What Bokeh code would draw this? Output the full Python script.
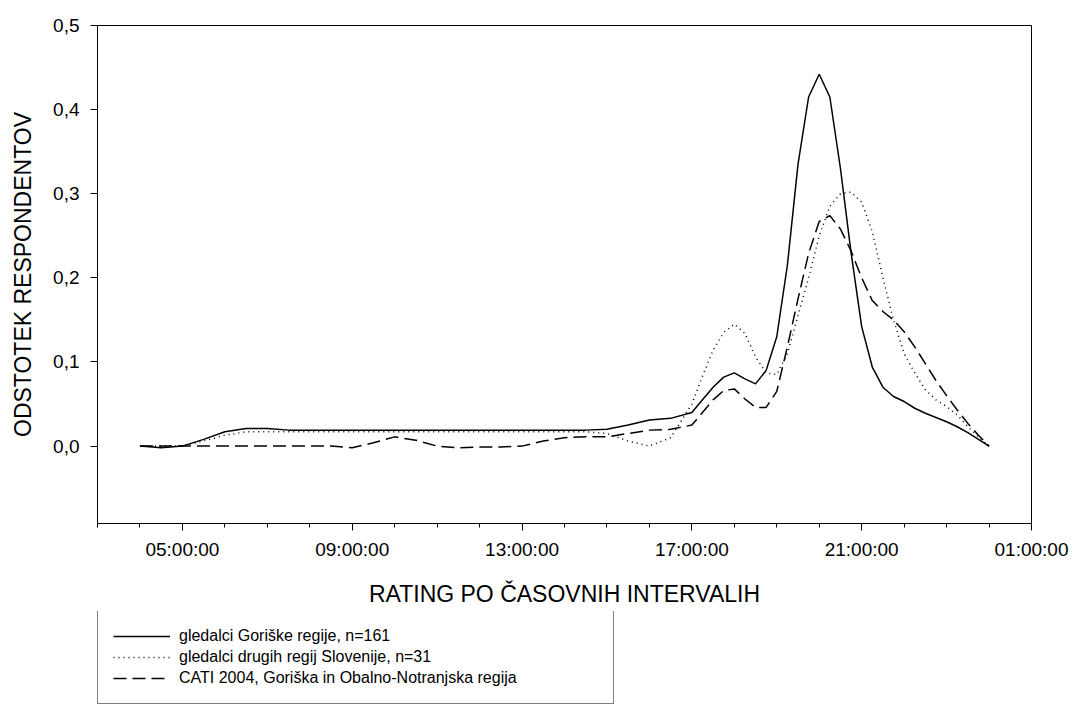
from bokeh.plotting import figure
from bokeh.layouts import column
from bokeh.models import FixedTicker, Range1d, Legend, LegendItem, ColumnDataSource
from bokeh.embed import file_html
from bokeh.resources import INLINE

# time of day in hours (24 = midnight)
hours = [4, 4.5, 5, 5.5, 6, 6.5, 7, 7.5, 8, 8.5, 9, 9.5, 10, 10.5, 11, 11.5, 12, 12.5,
         13, 13.5, 14, 14.5, 15, 15.5, 16, 16.5, 17, 17.25, 17.5, 17.75, 18, 18.25, 18.5,
         18.75, 19, 19.25, 19.5, 19.75, 20, 20.25, 20.5, 20.75, 21, 21.25, 21.5, 21.75,
         22, 22.25, 22.5, 22.75, 23, 23.25, 23.5, 23.75, 24]

goriska = [0.0, -0.002, 0.0, 0.008, 0.017, 0.021, 0.021, 0.019, 0.019, 0.019, 0.019, 0.019,
           0.019, 0.019, 0.019, 0.019, 0.019, 0.019, 0.019, 0.019, 0.019, 0.019, 0.020, 0.025,
           0.031, 0.033, 0.040, 0.055, 0.070, 0.082, 0.087, 0.080, 0.074, 0.090, 0.130, 0.215,
           0.335, 0.415, 0.442, 0.415, 0.330, 0.230, 0.142, 0.094, 0.070, 0.059, 0.053, 0.045,
           0.039, 0.034, 0.029, 0.023, 0.016, 0.008, 0.0]

drugi = [0.0, 0.0, 0.0, 0.006, 0.013, 0.017, 0.017, 0.017, 0.017, 0.017, 0.017, 0.017,
         0.017, 0.017, 0.017, 0.017, 0.017, 0.017, 0.017, 0.017, 0.017, 0.017, 0.015, 0.006,
         0.0, 0.010, 0.050, 0.083, 0.114, 0.135, 0.145, 0.134, 0.106, 0.087, 0.085, 0.110,
         0.155, 0.200, 0.250, 0.285, 0.300, 0.302, 0.290, 0.255, 0.200, 0.150, 0.110, 0.087,
         0.067, 0.055, 0.047, 0.037, 0.023, 0.011, 0.0]

cati = [0.0, 0.0, 0.0, 0.0, 0.0, 0.0, 0.0, 0.0, 0.0, 0.0, -0.002, 0.004, 0.011, 0.007,
        0.0, -0.002, -0.001, -0.001, 0.0, 0.006, 0.010, 0.011, 0.011, 0.015, 0.019, 0.020,
        0.025, 0.040, 0.055, 0.066, 0.068, 0.056, 0.046, 0.046, 0.065, 0.118, 0.175, 0.229,
        0.267, 0.274, 0.258, 0.232, 0.200, 0.173, 0.160, 0.150, 0.136, 0.118, 0.098, 0.078,
        0.060, 0.043, 0.027, 0.013, 0.0]

series_cols = ["g", "d", "c"]
series_names = ["gledalci Goriške regije, n=161",
                "gledalci drugih regij Slovenije, n=31",
                "CATI 2004, Goriška in Obalno-Notranjska regija"]

x_ticks = [5, 9, 13, 17, 21, 25]
x_labels = ["05:00:00", "09:00:00", "13:00:00", "17:00:00", "21:00:00", "01:00:00"]
x_minor = [3, 4, 5, 6, 7, 8, 9, 10, 11, 12, 13, 14, 15, 16, 17, 18, 19, 20, 21, 22, 23, 24, 25]
y_ticks = [0.0, 0.1, 0.2, 0.3, 0.4, 0.5]
y_labels = ["0,0", "0,1", "0,2", "0,3", "0,4", "0,5"]

FONT = "Liberation Sans"
STYLES = [dict(line_color="black", line_width=1.5),
          dict(line_color="black", line_width=1.5, line_dash="1 4"),
          dict(line_color="black", line_width=1.5, line_dash="13 6")]

src = ColumnDataSource(dict(h=hours, g=goriska, d=drugi, c=cati))

# ---------------- main chart ----------------
p = figure(frame_width=934, frame_height=498, output_backend="svg", toolbar_location=None,
           x_range=Range1d(3, 25), y_range=Range1d(-0.092, 0.5),
           min_border_left=97, min_border_right=40, min_border_top=25, min_border_bottom=88,
           background_fill_color="white", border_fill_color="white")
p.grid.visible = False
p.outline_line_color = "black"
p.outline_line_width = 1

for col, st in zip(series_cols, STYLES):
    p.line("h", col, source=src, **st)

xa = p.xaxis[0]
xa.ticker = FixedTicker(ticks=x_ticks, minor_ticks=x_minor)
xa.major_label_overrides = {t: l for t, l in zip(x_ticks, x_labels)}
xa.axis_label = "RATING PO ČASOVNIH INTERVALIH"
xa.major_tick_out = 7
xa.major_tick_in = 0
xa.minor_tick_out = 4
xa.minor_tick_in = 0
xa.major_label_standoff = 8
xa.axis_label_standoff = 18

ya = p.yaxis[0]
ya.ticker = FixedTicker(ticks=y_ticks)
ya.major_label_overrides = {t: l for t, l in zip(y_ticks, y_labels)}
ya.axis_label = "ODSTOTEK RESPONDENTOV"
ya.major_tick_out = 7
ya.major_tick_in = 0
ya.minor_tick_line_color = None
ya.major_label_standoff = 11
ya.axis_label_standoff = 14

for ax in (xa, ya):
    ax.axis_line_color = "black"
    ax.major_tick_line_color = "black"
    ax.major_label_text_font = FONT
    ax.major_label_text_font_size = "19px"
    ax.major_label_text_color = "black"
    ax.axis_label_text_font = FONT
    ax.axis_label_text_font_size = "23px"
    ax.axis_label_text_font_style = "normal"
    ax.axis_label_text_color = "black"
xa.minor_tick_line_color = "black"

# ---------------- legend strip below the chart ----------------
leg = figure(width=1071, height=94, output_backend="svg", toolbar_location=None,
             x_axis_type=None, y_axis_type=None,
             x_range=Range1d(3, 25), y_range=Range1d(-0.092, 0.5),
             min_border_left=0, min_border_right=0, min_border_top=0, min_border_bottom=0,
             background_fill_color="white", border_fill_color="white")
leg.grid.visible = False
leg.outline_line_color = None

# legend samples: same series, hidden in this strip (only their key is shown)
sample = []
for col, st in zip(series_cols, STYLES):
    r = leg.line("h", col, source=src, **st)
    r.visible = False
    sample.append(r)

legend = Legend(items=[LegendItem(label=n, renderers=[r]) for n, r in zip(series_names, sample)],
                location=(0, 1), orientation="vertical",
                margin=0, padding=15, spacing=1,
                glyph_width=57, glyph_height=20, label_height=20, label_standoff=9,
                label_width=419,
                label_text_font=FONT, label_text_font_size="16px", label_text_color="black",
                border_line_color="black", border_line_width=1,
                background_fill_color="white", background_fill_alpha=1.0,
                inactive_fill_alpha=0.0)
leg.add_layout(legend, "center")

layout = column(p, leg, spacing=0)
open("out.html", "w").write(file_html(layout, INLINE))
